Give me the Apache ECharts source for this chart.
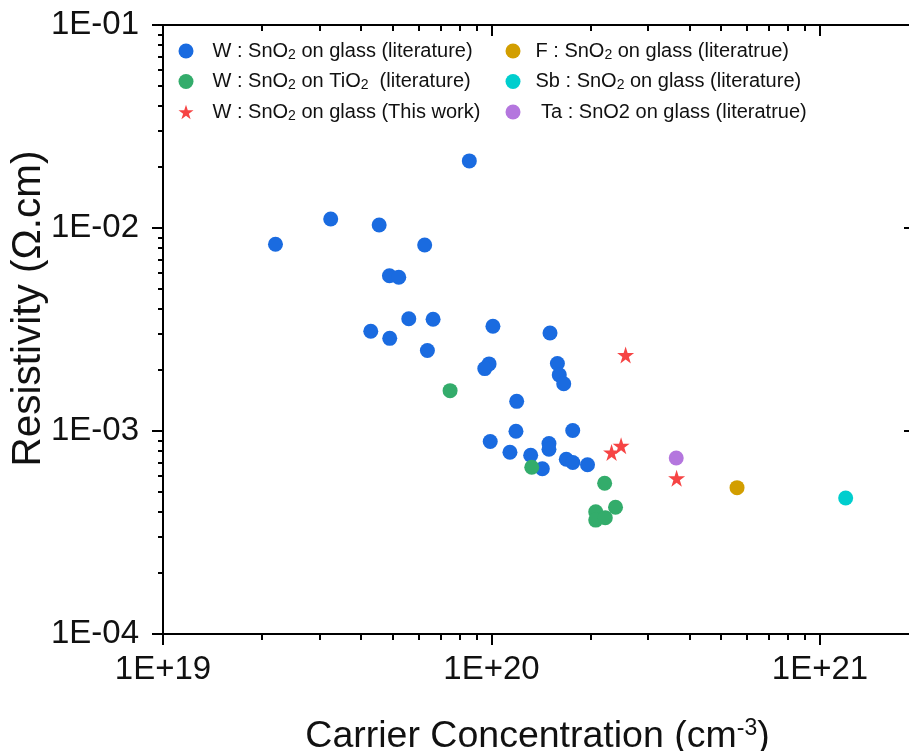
<!DOCTYPE html>
<html><head><meta charset="utf-8">
<script src="https://cdn.jsdelivr.net/npm/echarts@6/dist/echarts.min.js"></script>
<style>html,body{margin:0;padding:0;background:#fff}#c{width:909px;height:751px}</style>
</head><body><div id="c"></div>
<script>
// ---- data (carrier concentration in cm^-3, resistivity in ohm.cm) ----
const seriesNames = [
  'W : SnO2 on glass (literature)',
  'W : SnO2 on TiO2  (literature)',
  'W : SnO2 on glass (This work)',
  'F : SnO2 on glass (literatrue)',
  'Sb : SnO2 on glass (literature)',
  'Ta : SnO2 on glass (literatrue)'
];
const xBlue = [2.20e19, 3.24e19, 4.55e19, 6.26e19, 8.56e19, 4.89e19, 5.22e19, 5.60e19, 6.64e19, 4.29e19, 4.90e19, 6.38e19, 1.01e20, 1.507e20, 9.83e19, 9.54e19, 1.587e20, 1.608e20, 1.659e20, 1.193e20, 1.187e20, 1.767e20, 9.91e19, 1.138e20, 1.316e20, 1.496e20, 1.496e20, 1.428e20, 1.689e20, 1.768e20, 1.96e20];
const yBlue = [8.31e-3, 1.107e-2, 1.035e-2, 8.25e-3, 2.14e-2, 5.82e-3, 5.72e-3, 3.57e-3, 3.55e-3, 3.10e-3, 2.86e-3, 2.49e-3, 3.28e-3, 3.04e-3, 2.14e-3, 2.03e-3, 2.15e-3, 1.89e-3, 1.71e-3, 1.40e-3, 9.97e-4, 1.006e-3, 8.88e-4, 7.86e-4, 7.60e-4, 8.68e-4, 8.13e-4, 6.52e-4, 7.26e-4, 6.99e-4, 6.82e-4];
const xGreen = [7.48e19, 1.326e20, 2.21e20, 2.385e20, 2.076e20, 2.076e20, 2.22e20];
const yGreen = [1.58e-3, 6.63e-4, 5.53e-4, 4.21e-4, 4.00e-4, 3.64e-4, 3.74e-4];
const xRed = [2.56e20, 2.32e20, 2.48e20, 3.66e20];
const yRed = [2.37e-3, 7.83e-4, 8.46e-4, 5.85e-4];
const xGold = [5.59e20];
const yGold = [5.26e-4];
const xCyan = [1.197e21];
const yCyan = [4.68e-4];
const xPurple = [3.65e20];
const yPurple = [7.36e-4];

const xTickValues = [1e19, 1e20, 1e21];
const xTickLabels = ['1E+19', '1E+20', '1E+21'];
const yTickValues = [1e-4, 1e-3, 1e-2, 1e-1];
const yTickLabels = ['1E-04', '1E-03', '1E-02', '1E-01'];

// ---- chart ----
const FONT = '"Liberation Sans", Arial, sans-serif';
const lg = Math.log10;
const xMin = 19, xMax = 21.28, yMin = -4, yMax = -1;
const majorX = xTickValues.map(lg);
const majorY = yTickValues.map(lg);
function minorTicks(lo, hi) {
  const out = [];
  for (let e = Math.floor(lo); e <= Math.ceil(hi); e++) {
    for (let k = 2; k <= 9; k++) {
      const v = e + Math.log10(k);
      if (v > lo && v < hi) out.push(v);
    }
  }
  return out;
}
const minorX = minorTicks(xMin, xMax);
const minorY = minorTicks(yMin, yMax);
const pts = (xs, ys) => xs.map((v, i) => [lg(v), lg(ys[i])]);

const legendRich = {
  t: {fontSize: 20, fontFamily: FONT, color: '#111', lineHeight: 22},
  s: {fontSize: 14, fontFamily: FONT, color: '#111', lineHeight: 7, verticalAlign: 'bottom'}
};
function legendFmt(name) {
  if (name.indexOf('Ta :') === 0) return '{sp|}{t| ' + name + '}';
  let txt = name.replace(/SnO2/, '}{s|2}{t|').replace(/TiO2/, 'TiO}{s|2}{t|');
  txt = txt.replace('}{s|2}{t|', 'SnO}{s|2}{t|');
  return '{sp|}{t|' + txt + '}';
}
const axLine = {show: true, onZero: false, lineStyle: {color: '#000', width: 2}};
const tickStyle = {color: '#000', width: 2};

function xAx(pos, major, inside) {
  return {
    type: 'value', position: pos, min: xMin, max: xMax,
    axisLine: major ? axLine : {show: false},
    axisTick: {show: true, inside: inside, length: major ? 11 : 6, customValues: major ? majorX : minorX, lineStyle: tickStyle},
    axisLabel: (major && pos === 'bottom') ? {
      show: true, customValues: majorX, margin: 19, fontSize: 33, fontFamily: FONT, color: '#111',
      formatter: v => xTickLabels[majorX.findIndex(m => Math.abs(m - v) < 1e-9)]
    } : {show: false},
    splitLine: {show: false}
  };
}
function yAx(pos, major, inside) {
  return {
    type: 'value', position: pos, min: yMin, max: yMax,
    axisLine: (major && pos === 'left') ? axLine : {show: false},
    axisTick: {show: pos === 'left' || major, inside: inside, length: major ? (pos === 'left' ? 11 : 8) : 5, customValues: major ? majorY : minorY, lineStyle: tickStyle},
    axisLabel: (major && pos === 'left') ? {
      show: true, customValues: majorY, margin: 24, fontSize: 33, fontFamily: FONT, color: '#111',
      formatter: v => yTickLabels[majorY.findIndex(m => Math.abs(m - v) < 1e-9)]
    } : {show: false},
    splitLine: {show: false}
  };
}

const xAxes = [xAx('bottom', true, false), xAx('bottom', false, false), xAx('top', true, true), xAx('top', false, true)];
Object.assign(xAxes[0], {
  name: '{a|Carrier Concentration (cm}{b|-3}{a|)}', nameLocation: 'middle', nameGap: 83, nameMoveOverlap: false,
  nameTextStyle: {rich: {
    a: {fontSize: 37.5, fontFamily: FONT, color: '#111', lineHeight: 40},
    b: {fontSize: 23, fontFamily: FONT, color: '#111', lineHeight: 22, verticalAlign: 'top'}
  }}
});
const yAxes = [yAx('left', true, false), yAx('left', false, false), yAx('right', true, true)];
Object.assign(yAxes[0], {
  name: 'Resistivity (Ω.cm)', nameLocation: 'middle', nameGap: 114, nameRotate: 90, nameMoveOverlap: false,
  nameTextStyle: {fontSize: 40.5, fontFamily: FONT, color: '#111', padding: [0, 0, 0, 42]}
});

const colors = ['#1A6BE0', '#33AC6B', '#F64444', '#D29E00', '#00CECE', '#B476DE'];
const seriesData = [pts(xBlue, yBlue), pts(xGreen, yGreen), pts(xRed, yRed), pts(xGold, yGold), pts(xCyan, yCyan), pts(xPurple, yPurple)];
const symbols = ['circle', 'circle', 'path://M50,0 L61.8,36.2 L100,36.2 L69.1,58.8 L80.9,95.1 L50,72.7 L19.1,95.1 L30.9,58.8 L0,36.2 L38.2,36.2 Z', 'circle', 'circle', 'circle'];
const series = seriesNames.map((n, i) => ({
  type: 'scatter', name: n, data: seriesData[i],
  xAxisIndex: 0, yAxisIndex: 0,
  symbol: symbols[i], symbolSize: i === 2 ? 17 : 15,
  itemStyle: {color: colors[i], opacity: 1},
  emphasis: {disabled: true}
}));

function legendCfg(names, left, spw) {
  return {
    data: names.map(n => ({name: n})), left: left, top: 41, orient: 'vertical',
    itemWidth: 15, itemHeight: 15, itemGap: 9.5, padding: 0, selectedMode: false,
    formatter: legendFmt,
    textStyle: {rich: Object.assign({sp: {width: spw}}, legendRich)}
  };
}

const chart = echarts.init(document.getElementById('c'), null, {renderer: 'canvas'});
chart.setOption({
  animation: false,
  backgroundColor: '#fff',
  grid: {left: 163, top: 25, right: -3, bottom: 117, containLabel: false, outerBoundsMode: 'none'},
  xAxis: xAxes,
  yAxis: yAxes,
  legend: [
    legendCfg(seriesNames.slice(0, 3), 178.5, 14),
    legendCfg(seriesNames.slice(3, 6), 505.5, 10)
  ],
  series: series
});
</script>
</body></html>
